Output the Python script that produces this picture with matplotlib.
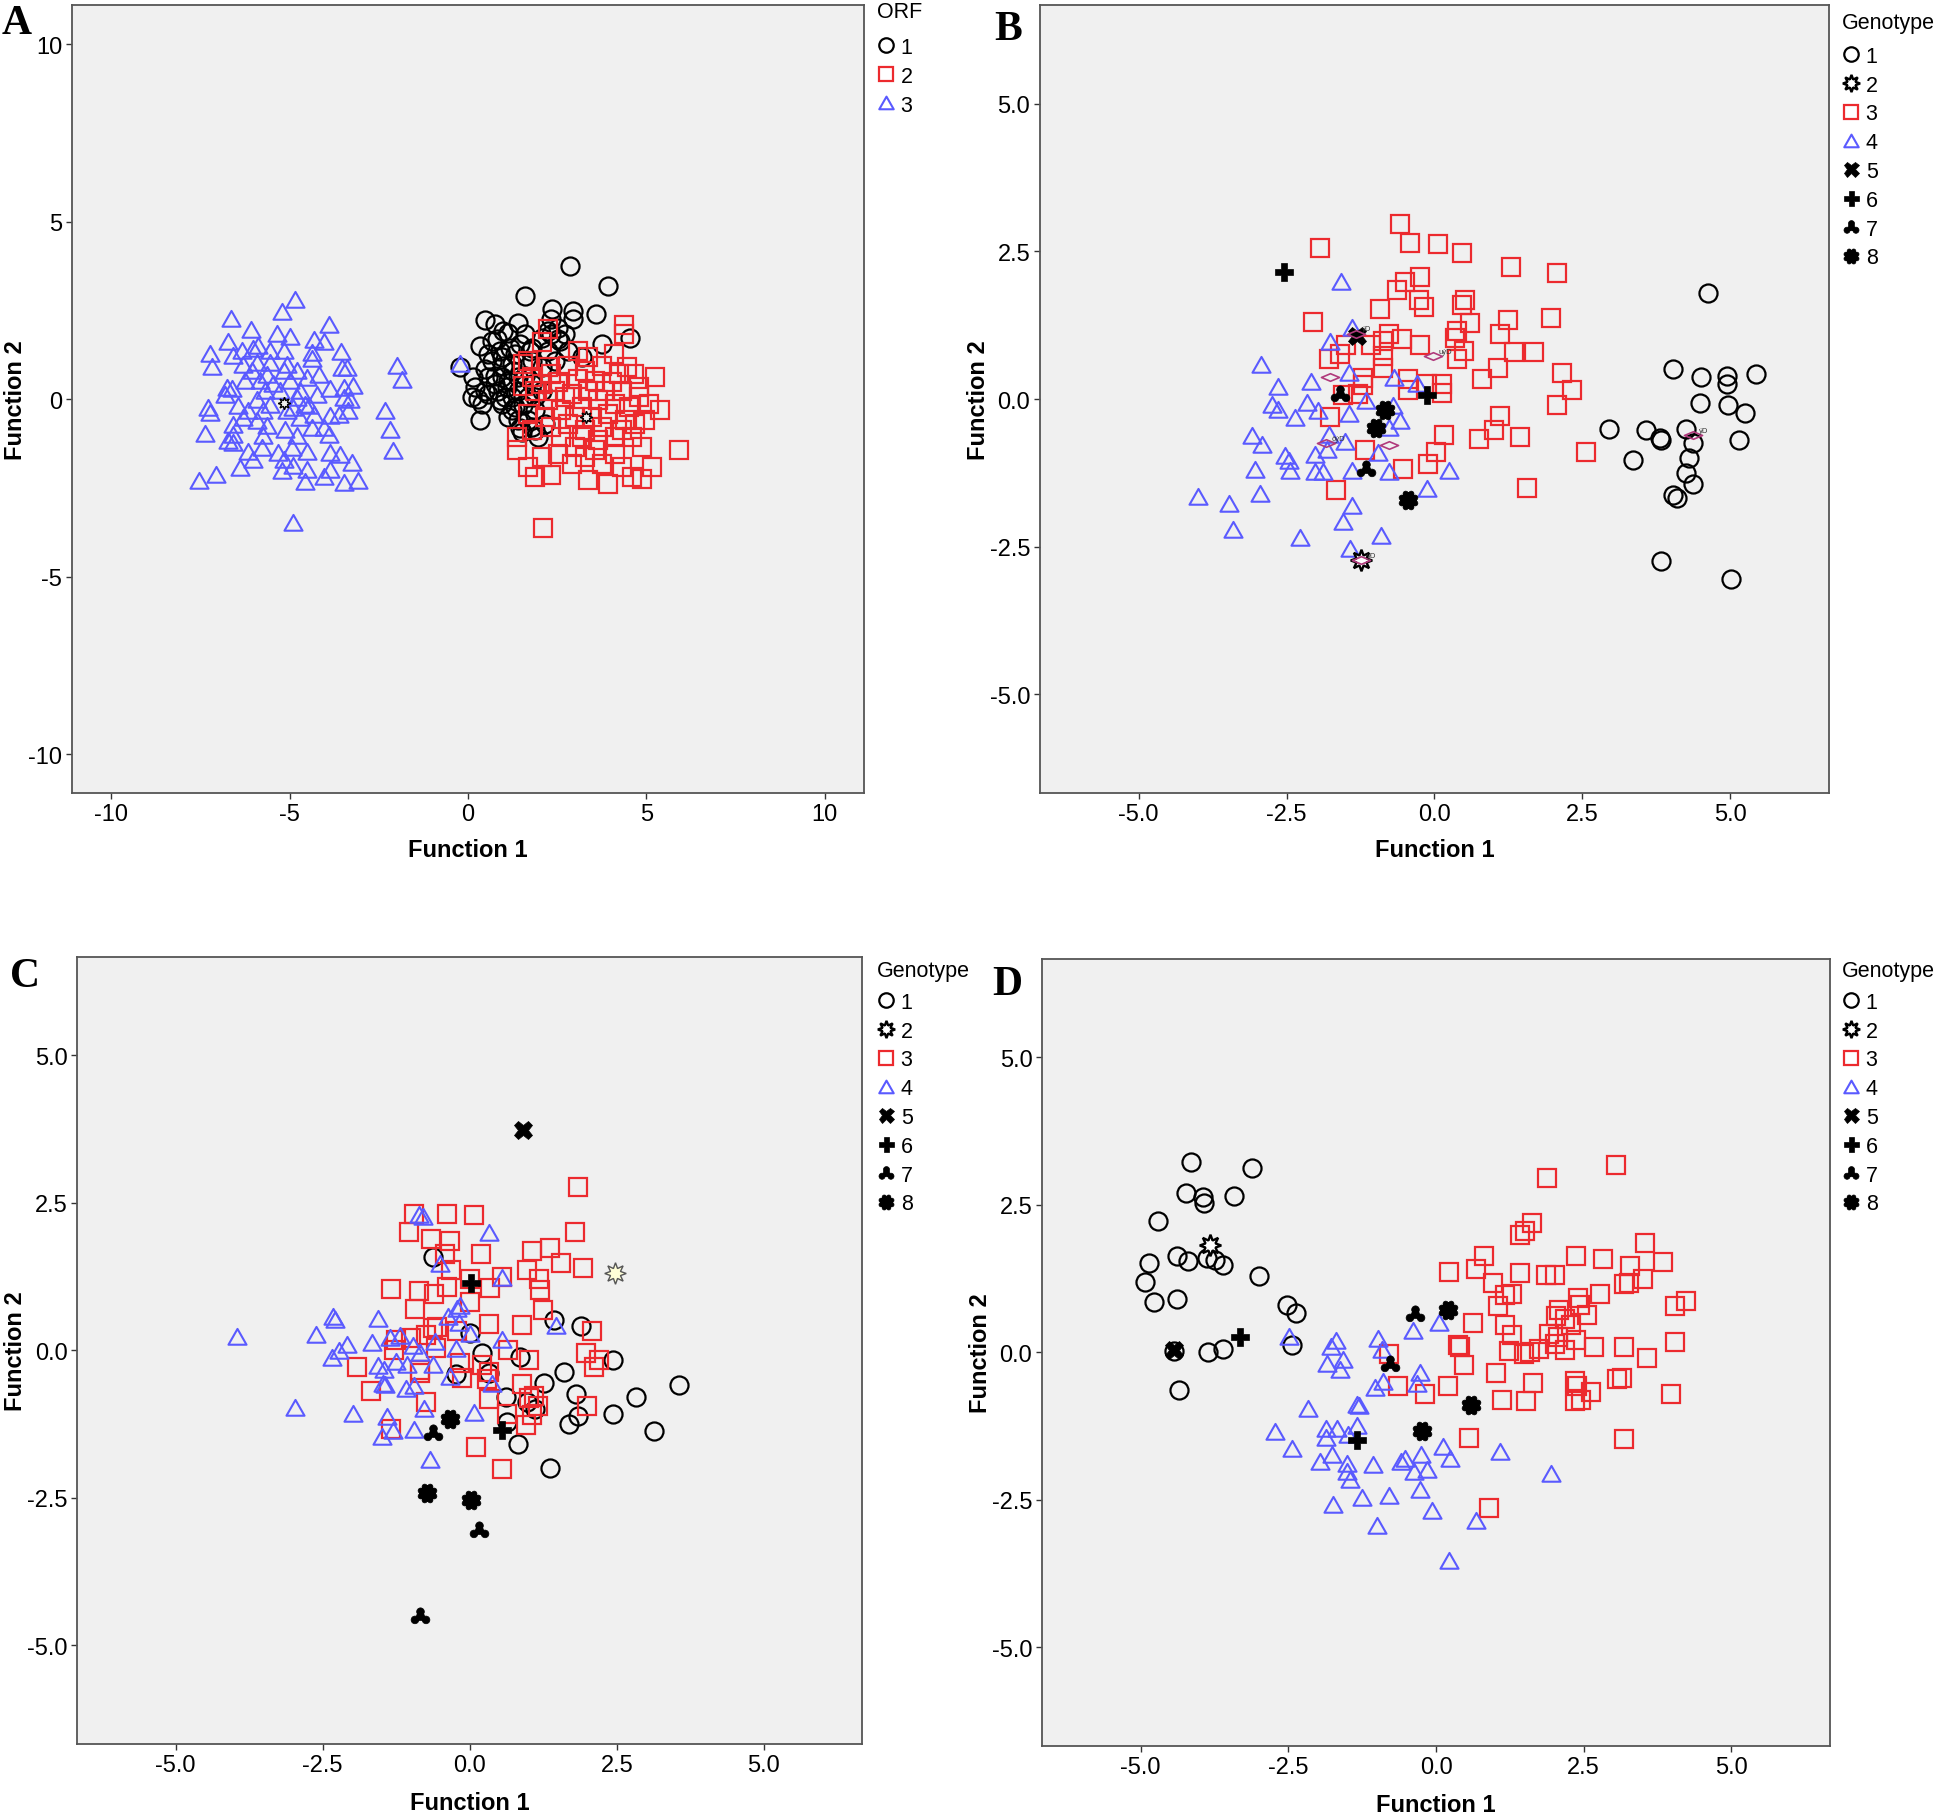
import numpy as np
import matplotlib
matplotlib.use('Agg')
import matplotlib.pyplot as plt
from matplotlib.path import Path
from matplotlib.lines import Line2D

plt.rcParams['font.family'] = ['Liberation Sans', 'DejaVu Sans']

BG = '#f0f0f0'
RED = '#ec2a2e'
BLUE = '#5a5aff'
PINK = '#b03a7c'
W, H = 1946, 1815

# ---------------- Panel A (ORF) ----------------
a_orf1 = [(2.86, 3.74), (3.91, 3.18), (1.59, 2.90), (2.36, 2.55), (2.95, 2.48), (3.59, 2.39),
          (0.49, 2.22), (0.77, 2.12), (1.41, 2.15), (1.59, 1.83), (2.72, 1.83), (4.54, 1.71),
          (0.33, 1.50), (3.75, 1.55), (0.80, 1.69), (1.13, 1.87), (2.34, 2.25), (2.95, 2.25),
          (0.56, 1.27), (0.94, 1.17), (-0.23, 0.89), (0.47, 0.85), (0.75, 0.66), (1.22, 0.99),
          (1.13, 0.52), (0.19, 0.33), (0.28, 0.00), (0.85, 0.24), (0.33, -0.60), (1.03, 0.05),
          (1.31, -0.23), (1.45, -0.83), (1.97, -1.07), (2.58, 1.64), (1.78, 1.45), (2.06, 1.73),
          (3.19, 1.17), (2.81, 1.36), (0.66, 1.64), (0.99, 1.92), (0.10, 0.05), (0.47, 0.24),
          (1.78, 1.08), (1.41, 0.61), (1.87, 0.05), (0.94, -0.14), (1.69, -0.60), (2.25, 1.92),
          (2.53, 2.01), (0.89, 1.36), (1.17, 1.45), (1.45, 1.55), (1.73, 1.36), (0.66, 1.08),
          (0.99, 0.94), (1.27, 0.80), (1.59, 0.66), (0.75, 0.43), (1.08, 0.33), (1.41, 0.24),
          (1.78, 0.43), (0.56, 0.14), (0.89, -0.04), (1.22, -0.32), (1.55, -0.18), (1.87, -0.32),
          (0.38, -0.14), (1.41, -0.60), (1.78, -0.79), (2.06, 0.24), (2.25, 1.36), (2.44, 1.08),
          (2.06, 0.89), (2.53, 1.69), (1.31, 1.27), (0.94, 0.61), (0.56, 0.61), (1.22, 0.05),
          (1.69, 0.05), (1.50, -0.93), (1.87, -0.88), (2.16, -0.70), (1.13, -0.51), (0.14, 0.61),
          (2.34, 1.83)]
a_orf2 = [(4.36, 2.09), (4.36, 1.83), (2.25, 1.97), (2.06, 1.62), (3.07, 1.36), (4.10, 1.27),
          (3.37, 1.17), (1.69, 1.08), (1.55, 0.99), (2.25, 0.89), (2.81, 0.94), (3.75, 0.94),
          (4.45, 0.89), (5.25, 0.61), (4.64, 0.71), (1.55, 0.38), (2.06, 0.43), (2.53, 0.47),
          (3.09, 0.57), (3.56, 0.52), (4.03, 0.47), (4.78, 0.33), (1.69, -0.41), (2.25, -0.04),
          (2.72, 0.05), (3.19, -0.23), (3.65, -0.04), (4.12, -0.14), (4.50, -0.23), (4.96, -0.60),
          (5.39, -0.32), (1.36, -1.07), (1.36, -1.44), (1.78, -0.88), (2.34, -0.79), (2.81, -0.69),
          (3.28, -0.88), (3.75, -0.79), (4.31, -0.88), (4.87, -1.35), (5.90, -1.44), (5.15, -1.91),
          (1.87, -2.19), (2.34, -2.14), (2.91, -1.82), (3.37, -2.28), (3.93, -2.38), (4.59, -2.19),
          (4.87, -2.24), (4.12, -1.54), (3.56, -1.44), (3.00, -1.35), (2.53, -1.54), (2.06, -1.63),
          (1.69, -1.91), (2.11, -3.64), (2.62, -0.32), (3.00, -0.51), (3.47, -0.51), (3.93, -0.41),
          (4.40, -0.60), (2.16, -0.51), (2.44, 0.24), (2.91, 0.14), (3.37, 0.24), (3.84, 0.24),
          (4.31, 0.24), (1.87, 0.24), (2.62, -1.07), (3.19, -1.07), (3.65, -1.16), (4.12, -1.07),
          (4.59, -1.07), (4.68, -0.69), (3.28, -1.63), (3.75, -1.82), (4.31, -1.91), (1.78, 0.61),
          (2.34, 0.71), (3.28, 0.80), (4.22, 0.71), (4.78, 0.05), (5.06, -0.14)]
a_orf3 = [(-4.85, 2.78), (-5.22, 2.46), (-6.65, 2.26), (-6.09, 1.95), (-3.91, 2.08), (-5.34, 1.82),
          (-4.99, 1.74), (-6.72, 1.60), (-4.32, 1.66), (-4.05, 1.61), (-5.88, 1.49), (-6.02, 1.42),
          (-6.34, 1.35), (-7.23, 1.27), (-4.38, 1.30), (-3.57, 1.32), (-5.17, 1.35), (-5.55, 1.35),
          (-6.58, 1.21), (-4.38, 1.14), (-7.18, 0.91), (-3.54, 0.88), (-3.38, 0.86), (-2.00, 0.94),
          (-1.86, 0.55), (-6.30, 0.97), (-5.92, 1.02), (-5.55, 1.02), (-5.08, 0.97), (-4.80, 0.78),
          (-4.52, 0.59), (-4.19, 0.69), (-6.25, 0.50), (-5.83, 0.50), (-5.46, 0.41), (-4.99, 0.50),
          (-6.76, 0.31), (-6.62, 0.27), (-6.81, 0.11), (-3.87, 0.27), (-3.49, 0.31), (-3.21, 0.36),
          (-4.71, 0.22), (-4.24, 0.12), (-5.69, 0.22), (-5.27, 0.22), (-3.49, 0.03), (-3.31, -0.02),
          (-7.28, -0.25), (-7.23, -0.39), (-6.44, -0.20), (-6.16, -0.35), (-5.74, -0.35), (-4.90, -0.25),
          (-4.57, -0.16), (-4.33, -0.44), (-3.87, -0.49), (-3.63, -0.44), (-3.35, -0.35), (-2.33, -0.35),
          (-2.19, -0.86), (-7.37, -0.99), (-6.58, -0.72), (-6.58, -1.00), (-5.64, -0.77), (-5.13, -0.86),
          (-4.38, -0.82), (-4.05, -0.82), (-3.91, -1.00), (-4.80, -1.05), (-6.72, -1.19), (-6.58, -1.24),
          (-5.74, -1.05), (-6.16, -1.48), (-5.78, -1.38), (-5.32, -1.52), (-4.94, -1.38), (-4.52, -1.48),
          (-3.87, -1.52), (-3.59, -1.57), (-2.09, -1.46), (-6.39, -1.95), (-6.02, -1.71), (-5.17, -1.71),
          (-4.90, -1.90), (-4.52, -1.99), (-3.87, -1.99), (-3.26, -1.80), (-5.22, -2.02), (-7.53, -2.32),
          (-7.06, -2.15), (-4.57, -2.34), (-4.05, -2.21), (-3.49, -2.37), (-3.07, -2.32), (-4.90, -3.50),
          (-6.06, 0.78), (-5.64, 0.69), (-5.17, 0.78), (-4.80, 0.03), (-5.92, -0.02), (-5.55, -0.16),
          (-5.08, -0.35), (-6.30, -0.54), (-5.92, -0.63), (-4.71, -0.53), (-4.47, -0.20), (-0.22, 1.00)]
a_centroids = [(-5.15, -0.10), (3.30, -0.52)]

# ---------------- Panel B (Genotype) ----------------
b_geno1 = [(4.62, 1.80), (4.04, 0.50), (4.51, 0.37), (4.95, 0.39), (4.94, 0.25), (5.44, 0.42),
           (4.49, -0.06), (4.97, -0.10), (5.25, -0.23), (2.95, -0.51), (3.58, -0.53), (3.81, -0.66),
           (3.84, -0.70), (4.25, -0.51), (4.37, -0.75), (5.15, -0.70), (3.36, -1.04), (4.30, -0.99),
           (4.26, -1.25), (4.37, -1.43), (4.03, -1.62), (4.10, -1.68), (3.83, -2.75), (5.01, -3.04)]
b_geno2 = [(-1.24, -2.73)]
b_geno3 = [(-0.59, 2.96), (-0.42, 2.64), (0.06, 2.62), (0.47, 2.47), (-1.94, 2.55), (1.30, 2.24),
           (2.08, 2.13), (-0.24, 2.07), (-0.50, 1.98), (-0.63, 1.84), (-0.26, 1.67), (-0.18, 1.56),
           (0.52, 1.67), (0.46, 1.60), (-0.92, 1.52), (-2.05, 1.31), (0.60, 1.29), (0.39, 1.15),
           (0.34, 1.03), (1.25, 1.34), (1.97, 1.37), (1.11, 1.10), (1.34, 0.80), (1.68, 0.80),
           (0.50, 0.82), (0.39, 0.67), (-0.24, 0.91), (-0.55, 1.01), (-0.87, 0.99), (-1.08, 0.91),
           (-1.50, 0.91), (-1.60, 0.77), (-1.78, 0.67), (-0.87, 0.72), (-0.87, 0.53), (-1.20, 0.36),
           (-1.20, 0.23), (-1.29, 0.08), (-1.55, 0.06), (-0.45, 0.34), (-0.45, 0.15), (-0.13, 0.25),
           (0.13, 0.25), (0.13, 0.10), (1.08, 0.53), (0.81, 0.34), (2.15, 0.44), (2.32, 0.15),
           (2.08, -0.10), (1.11, -0.28), (-1.76, -0.30), (0.16, -0.61), (1.00, -0.53), (0.76, -0.68),
           (1.45, -0.64), (2.57, -0.89), (0.03, -0.89), (-0.10, -1.10), (-1.17, -0.87), (-0.53, -1.18),
           (-1.66, -1.54), (1.57, -1.50), (-0.76, 1.10)]
b_geno4 = [(-1.58, 1.98), (-1.40, 1.20), (-1.76, 0.96), (-2.94, 0.58), (-2.64, 0.20), (-2.74, -0.10),
           (-2.65, -0.18), (-2.08, 0.29), (-2.16, -0.06), (-1.97, -0.21), (-2.35, -0.32), (-1.45, 0.44),
           (-1.45, -0.25), (-1.15, -0.04), (-0.68, 0.36), (-0.70, -0.11), (-0.59, -0.37), (-0.76, -0.49),
           (-0.29, 0.25), (-3.08, -0.63), (-2.91, -0.78), (-3.03, -1.20), (-2.53, -0.97), (-2.46, -1.05),
           (-2.44, -1.21), (-2.02, -0.94), (-2.02, -1.23), (-1.89, -1.23), (-1.81, -0.87), (-1.79, -0.61),
           (-1.52, -0.72), (-1.40, -1.21), (-0.96, -0.91), (-0.76, -1.23), (0.24, -1.21), (-0.13, -1.52),
           (-2.95, -1.61), (-4.00, -1.65), (-3.48, -1.78), (-3.41, -2.22), (-2.28, -2.36), (-1.55, -2.08),
           (-1.40, -1.81), (-1.42, -2.54), (-0.90, -2.32)]
b_geno5 = [(-1.31, 1.07)]
b_geno6 = [(-2.55, 2.15), (-0.13, 0.06)]
b_geno7 = [(-1.60, 0.08), (-1.15, -1.18)]
b_geno8 = [(-0.83, -0.18), (-0.99, -0.49), (-0.45, -1.71)]
b_centroids = [(-1.32, 1.10), (-0.03, 0.72), (-1.76, 0.37), (-1.84, -0.75), (-0.76, -0.78),
               (4.37, -0.61), (-1.24, -2.73)]
b_centroid_tags = ['ýD', 'uýD', '', 'ôýD', '', 'ýD', 'ýD']

# ---------------- Panel C (Genotype) ----------------
c_geno1 = [(-0.63, 1.59), (0.00, 0.30), (-0.23, -0.40), (0.21, -0.05), (0.32, -0.38), (0.86, -0.11),
           (1.44, 0.52), (1.89, 0.41), (2.44, -0.16), (1.61, -0.36), (1.26, -0.55), (0.61, -0.79),
           (0.97, -0.87), (1.11, -1.00), (1.81, -0.74), (1.84, -1.11), (1.68, -1.25), (2.82, -0.79),
           (3.56, -0.59), (2.44, -1.07), (3.13, -1.36), (0.63, -1.21), (0.82, -1.59), (1.37, -1.99)]
c_geno2 = [(2.47, 1.31)]
c_geno3 = [(1.84, 2.77), (-0.95, 2.32), (-0.38, 2.31), (0.08, 2.30), (1.79, 2.01), (-1.03, 2.01),
           (-0.66, 1.89), (-0.34, 1.85), (0.19, 1.64), (-0.42, 1.64), (1.05, 1.68), (1.37, 1.73),
           (1.55, 1.48), (1.92, 1.40), (-0.32, 1.36), (0.98, 1.37), (0.55, 1.25), (1.18, 1.21),
           (1.19, 1.02), (0.00, 1.21), (-0.38, 1.08), (0.34, 1.06), (-1.34, 1.04), (-0.86, 1.00),
           (-0.60, 0.95), (-0.93, 0.71), (0.00, 0.82), (1.24, 0.68), (0.32, 0.44), (0.89, 0.43),
           (2.07, 0.33), (-0.55, 0.40), (-0.74, 0.27), (-0.21, 0.33), (-1.00, 0.21), (-1.26, 0.17),
           (-1.28, 0.00), (-0.58, 0.04), (0.65, 0.00), (1.00, -0.16), (1.98, -0.05), (2.19, -0.17),
           (2.12, -0.28), (-1.92, -0.28), (-0.84, -0.33), (-0.16, -0.21), (0.21, -0.24), (0.32, -0.36),
           (0.29, -0.49), (-0.13, -0.47), (-1.68, -0.69), (0.89, -0.57), (0.32, -0.83), (-0.74, -0.87),
           (1.00, -0.81), (1.10, -0.78), (1.16, -0.95), (2.00, -0.95), (1.05, -1.09), (0.63, -1.07),
           (0.95, -1.26), (-1.34, -1.33), (0.11, -1.63), (0.55, -2.01), (-0.63, 0.38), (-0.84, -0.38)]
c_geno4 = [(-3.96, 0.22), (-2.97, -0.97), (-2.61, 0.27), (-2.32, 0.57), (-2.29, 0.52), (-2.23, -0.01),
           (-2.34, -0.13), (-2.08, 0.09), (-1.98, -1.08), (-1.66, 0.12), (-1.56, 0.53), (-1.56, -0.27),
           (-1.45, -0.33), (-1.44, -0.59), (-1.47, -0.57), (-1.41, -1.12), (-1.49, -1.47), (-1.31, -1.37),
           (-1.35, 0.21), (-1.18, 0.25), (-1.26, -0.19), (-1.07, -0.25), (-1.09, -0.66), (-0.95, -0.60),
           (-0.97, 0.08), (-0.84, -0.04), (-0.95, -1.35), (-0.78, -1.00), (-0.68, -1.85), (-0.63, -0.24),
           (-0.59, 0.14), (-0.86, 2.30), (-0.79, 2.27), (-0.51, 1.47), (0.32, 1.99), (0.55, 1.23),
           (-0.37, 0.57), (-0.21, 0.71), (-0.16, 0.76), (-0.19, 0.47), (0.00, 0.28), (-0.23, 0.02),
           (0.55, 0.17), (-0.34, -0.45), (0.37, -0.57), (0.08, -1.06), (1.47, 0.41)]
c_geno5 = [(0.91, 3.73)]
c_geno6 = [(0.02, 1.14), (0.55, -1.35)]
c_geno7 = [(-0.63, -1.40), (0.16, -3.05), (-0.84, -4.50)]
c_geno8 = [(-0.33, -1.16), (-0.72, -2.42), (0.02, -2.54)]

# ---------------- Panel D (Genotype) ----------------
d_geno1 = [(-4.15, 3.23), (-3.11, 3.12), (-4.23, 2.70), (-3.95, 2.64), (-3.93, 2.54), (-3.42, 2.65),
           (-4.70, 2.23), (-4.86, 1.51), (-4.92, 1.20), (-4.78, 0.85), (-4.39, 1.63), (-4.20, 1.55),
           (-3.88, 1.60), (-3.74, 1.56), (-3.61, 1.49), (-3.00, 1.29), (-4.39, 0.91), (-2.52, 0.80),
           (-2.37, 0.67), (-2.44, 0.13), (-4.43, 0.03), (-3.86, 0.00), (-3.60, 0.05), (-4.36, -0.63)]
d_geno2 = [(-3.82, 1.82)]
d_geno3 = [(3.05, 3.18), (1.88, 2.95), (1.62, 2.19), (1.50, 2.06), (1.42, 1.99), (2.37, 1.63),
           (2.83, 1.58), (3.54, 1.86), (3.84, 1.53), (0.82, 1.64), (0.68, 1.41), (0.22, 1.37),
           (0.96, 1.18), (1.42, 1.35), (1.86, 1.31), (2.01, 1.31), (3.29, 1.47), (3.51, 1.25),
           (3.19, 1.16), (3.26, 1.18), (1.17, 0.97), (1.29, 0.99), (1.05, 0.78), (2.40, 0.92),
           (2.43, 0.80), (2.77, 0.99), (4.05, 0.78), (4.24, 0.88), (2.08, 0.72), (2.19, 0.57),
           (2.56, 0.63), (2.29, 0.47), (2.03, 0.61), (1.17, 0.46), (0.62, 0.50), (1.28, 0.30),
           (1.91, 0.31), (2.06, 0.27), (2.37, 0.21), (2.01, 0.14), (2.19, 0.04), (1.75, 0.06),
           (1.59, 0.00), (1.49, -0.03), (1.24, 0.02), (0.38, 0.12), (0.40, 0.10), (2.68, 0.10),
           (3.19, 0.10), (4.05, 0.18), (3.57, -0.09), (-0.79, -0.03), (0.47, -0.21), (1.01, -0.34),
           (1.64, -0.51), (2.35, -0.49), (2.38, -0.57), (3.07, -0.45), (3.14, -0.43), (2.63, -0.67),
           (3.97, -0.70), (-0.65, -0.57), (-0.18, -0.70), (0.21, -0.57), (1.12, -0.80), (1.53, -0.83),
           (2.35, -0.83), (2.45, -0.81), (0.56, -1.45), (3.19, -1.47), (0.89, -2.64)]
d_geno4 = [(-2.49, 0.26), (-1.69, 0.20), (-1.78, 0.09), (-1.84, -0.19), (-1.57, -0.12), (-1.63, -0.30),
           (-0.99, 0.23), (-0.92, 0.04), (-0.39, 0.37), (0.05, 0.50), (-0.28, -0.34), (-0.33, -0.53),
           (-0.89, -0.50), (-1.04, -0.60), (-1.34, -0.89), (-1.31, -0.91), (-2.16, -0.96), (-2.73, -1.35),
           (-2.44, -1.63), (-1.86, -1.30), (-1.67, -1.30), (-1.86, -1.45), (-1.76, -1.74), (-1.97, -1.85),
           (-1.49, -1.40), (-1.34, -1.25), (-1.51, -1.89), (-1.51, -2.02), (-1.46, -2.16), (-1.06, -1.90),
           (-1.74, -2.58), (-1.25, -2.47), (-0.79, -2.44), (-1.00, -2.95), (-0.60, -1.85), (-0.52, -1.80),
           (-0.37, -2.02), (-0.16, -1.99), (-0.26, -1.74), (-0.28, -2.33), (0.12, -1.60), (0.24, -1.80),
           (-0.07, -2.69), (0.68, -2.86), (1.08, -1.68), (1.95, -2.06), (0.22, -3.54)]
d_geno5 = [(-4.43, 0.04)]
d_geno6 = [(-3.32, 0.27), (-1.33, -1.48)]
d_geno7 = [(-0.36, 0.65), (-0.78, -0.19)]
d_geno8 = [(0.21, 0.72), (0.59, -0.89), (-0.24, -1.33)]

geno_labels = ['1', '2', '3', '4', '5', '6', '7', '8']
orf_labels = ['1', '2', '3']


# ---- marker shapes ----
def blob(circles):
    return Path.make_compound_path(*[Path.circle(c, r) for c, r in circles])

trefoil = blob([((0, 0.45), 0.36), ((-0.52, -0.32), 0.36), ((0.52, -0.32), 0.36), ((0, 0.0), 0.38)])
ang = np.linspace(0, 2 * np.pi, 8, endpoint=False) + np.pi / 8
flower = blob([((0.72 * np.cos(t), 0.72 * np.sin(t)), 0.26) for t in ang] + [((0, 0), 0.74)])
tri = Path([(-1, -0.8), (1, -0.8), (0, 0.95), (-1, -0.8)],
           [Path.MOVETO, Path.LINETO, Path.LINETO, Path.CLOSEPOLY])
diamond = Path([(-1, 0), (0, 0.42), (1, 0), (0, -0.42), (-1, 0)],
               [Path.MOVETO, Path.LINETO, Path.LINETO, Path.LINETO, Path.CLOSEPOLY])

styles = {
    1: dict(marker='o', ms=13, mfc='none', mec='black', mew=1.6),
    2: dict(marker=(8, 1, 0), ms=15.5, mfc='white', mec='black', mew=1.7),
    3: dict(marker='s', ms=13, mfc='none', mec=RED, mew=1.6),
    4: dict(marker=tri, ms=13, mfc='none', mec=BLUE, mew=1.5),
    5: dict(marker='X', ms=13.5, mfc='black', mec='black', mew=0.5),
    6: dict(marker='P', ms=13.5, mfc='black', mec='black', mew=0.5),
    7: dict(marker=trefoil, ms=13.5, mfc='black', mec='black', mew=0.5),
    8: dict(marker=flower, ms=13.5, mfc='black', mec='black', mew=0.5),
}


def draw(ax, pts, key, **extra):
    x, y = np.array(pts).T
    st = dict(styles[key])
    st.update(extra)
    ax.plot(x, y, linestyle='none', **st)


def finish(ax, lim, ticks, ticklabels, xlab_y, ylab_x):
    ax.set_facecolor(BG)
    ax.set_xlim(-lim, lim)
    ax.set_ylim(-lim, lim)
    ax.set_xticks(ticks)
    ax.set_xticklabels(ticklabels)
    ax.set_yticks(ticks)
    ax.set_yticklabels(ticklabels)
    ax.tick_params(direction='out', length=4, width=1, color='#333333', labelsize=17,
                   pad=3, top=False, right=False)
    for s in ax.spines.values():
        s.set_color('#555555')
        s.set_linewidth(1.3)
    ax.set_xlabel('Function 1', fontsize=17, fontweight='bold')
    ax.set_ylabel('Function 2', fontsize=17, fontweight='bold')
    ax.xaxis.set_label_coords(0.5, xlab_y)
    ax.yaxis.set_label_coords(ylab_x, 0.5)


def legend(ax, title, labels, keys, x_px, title_y_px, top_px):
    # legend title drawn on its own so its gap to the entries can be set freely
    fig.text(x_px / W, 1 - title_y_px / H, title, fontsize=15.5, ha='left', va='center')
    handles = []
    for k in keys:
        st = dict(styles[k])
        st['ms'] = st['ms'] * 0.8
        handles.append(Line2D([], [], linestyle='none', **st))
    ax.legend(handles, labels, loc='upper left', bbox_to_anchor=(x_px / W, 1 - top_px / H),
              bbox_transform=fig.transFigure, frameon=False, fontsize=15.5, handlelength=0.8,
              handletextpad=0.3, labelspacing=0.36, borderaxespad=0.0, borderpad=0.0)


fig = plt.figure(figsize=(W / 100, H / 100), dpi=100)
axA = fig.add_axes([0.0370, 0.5625, 0.4070, 0.4342])
axB = fig.add_axes([0.5344, 0.5625, 0.4054, 0.4342])
axC = fig.add_axes([0.0398, 0.0386, 0.4032, 0.4336])
axD = fig.add_axes([0.5355, 0.0375, 0.4049, 0.4336])

# Panel A
draw(axA, a_orf1, 1)
draw(axA, a_orf2, 3, ms=13.3)
draw(axA, a_orf3, 4)
draw(axA, a_centroids, 2, ms=9, mfc=BG, mew=1.0)
finish(axA, 11.1, [-10, -5, 0, 5, 10], ['-10', '-5', '0', '5', '10'], -0.057, -0.057)
legend(axA, 'ORF', orf_labels, [1, 3, 4], 877, 12, 38)

# Panel B
draw(axB, b_geno1, 1)
draw(axB, b_geno3, 3)
draw(axB, b_geno4, 4)
draw(axB, b_geno2, 2)
draw(axB, b_geno5, 5)
draw(axB, b_geno6, 6)
draw(axB, b_geno7, 7)
draw(axB, b_geno8, 8)
bcx, bcy = np.array(b_centroids).T
axB.plot(bcx, bcy, linestyle='none', marker=diamond, ms=13, mfc='none', mec=PINK, mew=1.2)
for (cx, cy), tag in zip(b_centroids, b_centroid_tags):
    if tag:
        axB.text(cx + 0.1, cy + 0.06, tag, fontsize=5.5, color='#333333')
finish(axB, 6.67, [-5, -2.5, 0, 2.5, 5], ['-5.0', '-2.5', '0.0', '2.5', '5.0'], -0.057, -0.063)
legend(axB, 'Genotype', geno_labels, range(1, 9), 1842, 24, 47)

# Panel C
draw(axC, c_geno1, 1)
draw(axC, c_geno3, 3)
draw(axC, c_geno4, 4)
draw(axC, c_geno2, 2, mfc='#ffffd8', mec='#555555', mew=1.0)
draw(axC, c_geno5, 5)
draw(axC, c_geno6, 6)
draw(axC, c_geno7, 7)
draw(axC, c_geno8, 8)
finish(axC, 6.67, [-5, -2.5, 0, 2.5, 5], ['-5.0', '-2.5', '0.0', '2.5', '5.0'], -0.060, -0.064)
legend(axC, 'Genotype', geno_labels, range(1, 9), 877, 971, 993)

# Panel D
draw(axD, d_geno1, 1)
draw(axD, d_geno3, 3)
draw(axD, d_geno4, 4)
draw(axD, d_geno2, 2)
draw(axD, d_geno5, 5)
draw(axD, d_geno6, 6)
draw(axD, d_geno7, 7)
draw(axD, d_geno8, 8)
finish(axD, 6.67, [-5, -2.5, 0, 2.5, 5], ['-5.0', '-2.5', '0.0', '2.5', '5.0'], -0.060, -0.0635)
legend(axD, 'Genotype', geno_labels, range(1, 9), 1842, 971, 993)

# panel letters
for lx, ly, letter in [(0.001, 0.997, 'A'), (0.511, 0.994, 'B'), (0.005, 0.472, 'C'), (0.510, 0.468, 'D')]:
    fig.text(lx, ly, letter, fontsize=30, fontweight='bold', family='Liberation Serif', va='top')

fig.savefig('out.png', dpi=100, facecolor='white')
